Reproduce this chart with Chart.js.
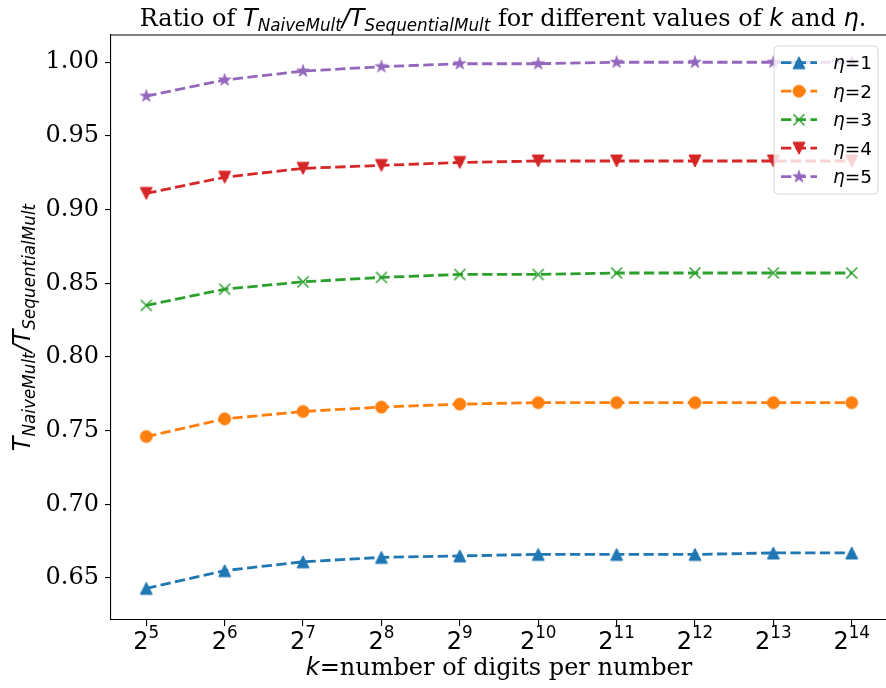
<!DOCTYPE html>
<html>
<head>
<meta charset="utf-8">
<script src="https://cdn.jsdelivr.net/npm/chart.js@4.4.1/dist/chart.umd.min.js"></script>
<style>
  html, body { margin: 0; padding: 0; background: #fff; overflow: hidden; }
  #wrap { width: 888px; height: 688px; }
</style>
</head>
<body>
<div id="wrap"><canvas id="c" width="888" height="688"></canvas></div>
<script>
// k = 2^e digits per number
const kExponents = [5, 6, 7, 8, 9, 10, 11, 12, 13, 14];
const etaLabels = ['1', '2', '3', '4', '5'];

// T_NaiveMult / T_SequentialMult for each eta
const ratioEta1 = [0.643, 0.655, 0.661, 0.664, 0.665, 0.666, 0.666, 0.666, 0.667, 0.667];
const ratioEta2 = [0.746, 0.758, 0.763, 0.766, 0.768, 0.769, 0.769, 0.769, 0.769, 0.769];
const ratioEta3 = [0.835, 0.846, 0.851, 0.854, 0.856, 0.856, 0.857, 0.857, 0.857, 0.857];
const ratioEta4 = [0.911, 0.922, 0.928, 0.930, 0.932, 0.933, 0.933, 0.933, 0.933, 0.933];
const ratioEta5 = [0.977, 0.988, 0.994, 0.997, 0.999, 0.999, 1.000, 1.000, 1.000, 1.000];

const yTickValues = [0.65, 0.70, 0.75, 0.80, 0.85, 0.90, 0.95, 1.00];

const SERIF = "'DejaVu Serif'";
const SANS = "'DejaVu Sans'";
const FS = 24;
const SUB = 16.8;

const colors = ['#1f77b4', '#ff7f0e', '#2ca02c', '#d62728', '#9467bd'];
const markerKinds = ['triUp', 'circle', 'x', 'triDown', 'star'];
const seriesValues = [ratioEta1, ratioEta2, ratioEta3, ratioEta4, ratioEta5];
const DASH = [10.3, 4.4];

// Small bitmaps used as point styles
function makeMarker(kind, color) {
  const c = document.createElement('canvas');
  c.width = 18; c.height = 18;
  const g = c.getContext('2d');
  const m = 9;
  g.fillStyle = color; g.strokeStyle = color; g.lineWidth = 1;
  g.beginPath();
  if (kind === 'triUp') {
    const r = 6;
    g.moveTo(m, m - r); g.lineTo(m - r, m + r); g.lineTo(m + r, m + r); g.closePath();
    g.fill(); g.stroke();
  } else if (kind === 'triDown') {
    const r = 6;
    g.moveTo(m, m + r); g.lineTo(m - r, m - r); g.lineTo(m + r, m - r); g.closePath();
    g.fill(); g.stroke();
  } else if (kind === 'circle') {
    g.arc(m, m, 6, 0, Math.PI * 2);
    g.fill(); g.stroke();
  } else if (kind === 'x') {
    const r = 5.5;
    g.lineWidth = 1.5;
    g.moveTo(m - r, m - r); g.lineTo(m + r, m + r);
    g.moveTo(m - r, m + r); g.lineTo(m + r, m - r);
    g.stroke();
  } else if (kind === 'star') {
    const ro = 6.5, ri = ro * 0.381966;
    for (let i = 0; i < 10; i++) {
      const r = i % 2 === 0 ? ro : ri;
      const a = -Math.PI / 2 + i * Math.PI / 5;
      const px = m + r * Math.cos(a), py = m + r * Math.sin(a);
      if (i === 0) g.moveTo(px, py); else g.lineTo(px, py);
    }
    g.closePath();
    g.lineWidth = 0.8;
    g.fill(); g.stroke();
  }
  return c;
}

const markers = markerKinds.map((k, i) => makeMarker(k, colors[i]));

const datasets = seriesValues.map((vals, i) => ({
  label: '\u03b7=' + etaLabels[i],
  data: kExponents.map((e, j) => ({ x: e, y: vals[j] })),
  borderColor: colors[i],
  backgroundColor: colors[i],
  borderWidth: 2.8,
  borderDash: DASH,
  pointStyle: markers[i],
  pointRadius: 6,
  pointHoverRadius: 6,
  tension: 0,
  fill: false
}));

function richWidth(ctx, segs) {
  let w = 0;
  for (const s of segs) { ctx.font = s.f; w += ctx.measureText(s.t).width; }
  return w;
}
function drawRich(ctx, segs, x, y) {
  let cx = x;
  for (const s of segs) {
    ctx.font = s.f;
    ctx.fillText(s.t, cx, y + (s.dy || 0));
    cx += ctx.measureText(s.t).width;
  }
}

const serif = `${FS}px ${SERIF}`;
const mathIt = `italic ${FS}px ${SANS}`;
const mathSub = `italic ${SUB}px ${SANS}`;

const titleSegs = [
  { t: 'Ratio of ', f: serif },
  { t: 'T', f: mathIt },
  { t: 'NaiveMult', f: mathSub, dy: 5 },
  { t: '/', f: mathIt },
  { t: 'T', f: mathIt },
  { t: 'SequentialMult', f: mathSub, dy: 5 },
  { t: ' for different values of ', f: serif },
  { t: 'k', f: mathIt },
  { t: ' and ', f: serif },
  { t: '\u03b7', f: mathIt },
  { t: '.', f: serif }
];
const yLabelSegs = [
  { t: 'T', f: mathIt },
  { t: 'NaiveMult', f: mathSub, dy: 5 },
  { t: '/', f: mathIt },
  { t: 'T', f: mathIt },
  { t: 'SequentialMult', f: mathSub, dy: 5 }
];
const xLabelSegs = [
  { t: 'k', f: mathIt },
  { t: '=number of digits per number', f: serif }
];

const decorations = {
  id: 'decorations',
  afterDraw(chart) {
    const ctx = chart.ctx;
    const a = chart.chartArea;
    const xs = chart.scales.x;
    ctx.save();
    ctx.fillStyle = '#000';
    ctx.textBaseline = 'alphabetic';
    ctx.textAlign = 'left';

    // top and right spines
    ctx.strokeStyle = '#000';
    ctx.lineWidth = 1.1;
    ctx.beginPath();
    ctx.moveTo(a.left, a.top); ctx.lineTo(a.right, a.top); ctx.lineTo(a.right, a.bottom);
    ctx.stroke();

    // x tick labels as 2^e
    for (const e of kExponents) {
      const px = xs.getPixelForValue(e);
      const segs = [
        { t: '2', f: `${FS}px ${SANS}` },
        { t: String(e), f: `${SUB}px ${SANS}`, dy: -11 }
      ];
      const w = richWidth(ctx, segs);
      drawRich(ctx, segs, px - w / 2, a.bottom + 29);
    }

    // title
    let w = richWidth(ctx, titleSegs);
    drawRich(ctx, titleSegs, (a.left + a.right) / 2 - w / 2 + 4, 26);

    // x axis label
    w = richWidth(ctx, xLabelSegs);
    drawRich(ctx, xLabelSegs, (a.left + a.right) / 2 - w / 2, a.bottom + 55);

    // y axis label
    ctx.save();
    ctx.translate(30, (a.top + a.bottom) / 2);
    ctx.rotate(-Math.PI / 2);
    w = richWidth(ctx, yLabelSegs);
    drawRich(ctx, yLabelSegs, -w / 2, 0);
    ctx.restore();

    // legend box in the upper right
    const lw = 104, lh = 148;
    const lx = a.right - 9 - lw, ly = a.top + 11;
    const rr = 4;
    ctx.beginPath();
    ctx.moveTo(lx + rr, ly);
    ctx.arcTo(lx + lw, ly, lx + lw, ly + lh, rr);
    ctx.arcTo(lx + lw, ly + lh, lx, ly + lh, rr);
    ctx.arcTo(lx, ly + lh, lx, ly, rr);
    ctx.arcTo(lx, ly, lx + lw, ly, rr);
    ctx.closePath();
    ctx.fillStyle = 'rgba(255,255,255,0.8)';
    ctx.fill();
    ctx.strokeStyle = 'rgba(204,204,204,0.8)';
    ctx.lineWidth = 1;
    ctx.stroke();

    const lfs = 18.5;
    chart.data.datasets.forEach((ds, i) => {
      const cy = ly + 16.7 + i * 28.5;
      const x0 = lx + 7, x1 = lx + 43;
      ctx.save();
      ctx.strokeStyle = ds.borderColor;
      ctx.lineWidth = 2.8;
      ctx.setLineDash(DASH);
      ctx.beginPath(); ctx.moveTo(x0, cy); ctx.lineTo(x1, cy); ctx.stroke();
      ctx.restore();
      const mk = ds.pointStyle;
      ctx.drawImage(mk, (x0 + x1) / 2 - mk.width / 2, cy - mk.height / 2);
      ctx.fillStyle = '#000';
      drawRich(ctx, [
        { t: '\u03b7', f: `italic ${lfs}px ${SANS}` },
        { t: '=' + etaLabels[i], f: `${lfs}px ${SANS}` }
      ], lx + 59, cy + 6.6);
    });

    ctx.restore();
  }
};

new Chart(document.getElementById('c'), {
  type: 'line',
  data: { datasets },
  options: {
    responsive: false,
    animation: false,
    devicePixelRatio: 1,
    layout: { autoPadding: false, padding: { top: 35, right: 1, left: 0, bottom: 0 } },
    plugins: { legend: { display: false }, tooltip: { enabled: false }, title: { display: false } },
    scales: {
      x: {
        type: 'linear',
        min: 4.55,
        max: 14.45,
        afterBuildTicks: (s) => { s.ticks = kExponents.map(v => ({ value: v })); },
        afterFit: (s) => { s.height = 68; },
        ticks: { display: false },
        grid: { drawOnChartArea: false, drawTicks: true, tickLength: 6, color: '#000', lineWidth: 1.1 },
        border: { display: true, color: '#000', width: 1.1 }
      },
      y: {
        type: 'linear',
        min: 0.6215,
        max: 1.0185,
        afterBuildTicks: (s) => { s.ticks = yTickValues.map(v => ({ value: v })); },
        afterFit: (s) => { s.width = 111; },
        ticks: {
          color: '#000',
          padding: 6,
          font: { family: 'DejaVu Serif', size: FS },
          callback: (v) => Number(v).toFixed(2)
        },
        grid: { drawOnChartArea: false, drawTicks: true, tickLength: 6, color: '#000', lineWidth: 1.1 },
        border: { display: true, color: '#000', width: 1.1 }
      }
    }
  },
  plugins: [decorations]
});
</script>
</body>
</html>
